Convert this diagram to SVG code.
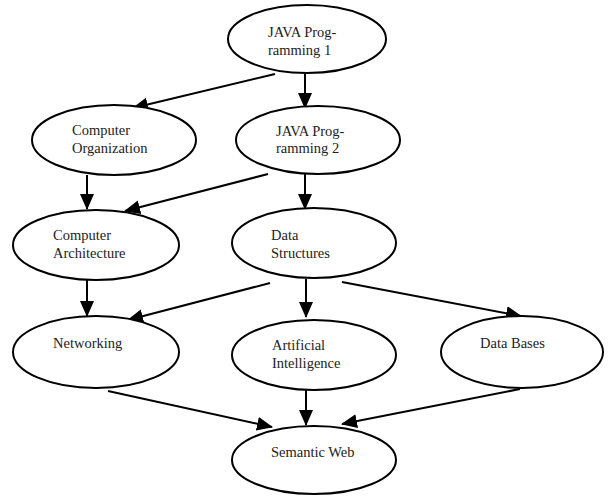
<svg xmlns="http://www.w3.org/2000/svg" width="609" height="496" viewBox="0 0 609 496">
<style>
.n ellipse{fill:#fff;stroke:#000;stroke-width:2}
.n text{font-family:"Liberation Serif","Times New Roman",serif;font-size:14.5px;fill:#222}
#edges line{stroke:#000;stroke-width:2;marker-end:url(#ah)}
</style>
<defs>
<marker id="ah" markerUnits="userSpaceOnUse" markerWidth="16" markerHeight="16" viewBox="0 0 16 14" refX="15" refY="7" orient="auto">
<path d="M0,0 L16,7 L0,14 z" fill="#000"/>
</marker>
</defs>
<rect width="609" height="496" fill="#fff"/>
<g id="edges">
<line x1="275" y1="74" x2="133" y2="108"/>
<line x1="305" y1="73" x2="305" y2="108"/>
<line x1="87" y1="175" x2="87" y2="209"/>
<line x1="268" y1="174" x2="125" y2="211"/>
<line x1="305" y1="174" x2="305" y2="209"/>
<line x1="87" y1="280" x2="87" y2="316"/>
<line x1="270" y1="283" x2="128" y2="320"/>
<line x1="306" y1="279" x2="306" y2="317"/>
<line x1="342" y1="282" x2="521" y2="316"/>
<line x1="108" y1="391" x2="272" y2="427"/>
<line x1="306" y1="390" x2="306" y2="425"/>
<line x1="520" y1="389" x2="342" y2="424"/>
</g>
<g id="java1" class="n"><ellipse cx="307" cy="39" rx="79" ry="34"/><text x="268" y="37">JAVA Prog-</text><text x="268" y="55">ramming 1</text></g>
<g id="comporg" class="n"><ellipse cx="114" cy="140" rx="82" ry="35"/><text x="72" y="135">Computer</text><text x="72" y="153">Organization</text></g>
<g id="java2" class="n"><ellipse cx="318" cy="140" rx="82" ry="34"/><text x="276" y="136">JAVA Prog-</text><text x="276" y="153">ramming 2</text></g>
<g id="comparch" class="n"><ellipse cx="96" cy="245" rx="83" ry="35"/><text x="53" y="240">Computer</text><text x="53" y="258">Architecture</text></g>
<g id="datastr" class="n"><ellipse cx="314" cy="243" rx="82" ry="35"/><text x="271" y="240">Data</text><text x="271" y="258">Structures</text></g>
<g id="networking" class="n"><ellipse cx="96" cy="352" rx="83" ry="36"/><text x="53" y="348">Networking</text></g>
<g id="ai" class="n"><ellipse cx="314" cy="355" rx="82" ry="35"/><text x="272" y="350">Artificial</text><text x="272" y="368">Intelligence</text></g>
<g id="databases" class="n"><ellipse cx="522" cy="352" rx="81" ry="36"/><text x="480" y="348">Data Bases</text></g>
<g id="semweb" class="n"><ellipse cx="314" cy="460" rx="82" ry="34"/><text x="271" y="457">Semantic Web</text></g>
</svg>
